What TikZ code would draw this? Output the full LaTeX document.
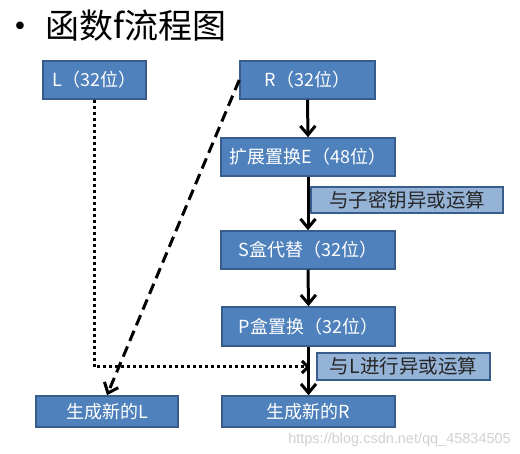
\documentclass[tikz,border=0pt]{standalone}
\usepackage{fontspec}
\setmainfont{Noto Sans CJK SC}
\newfontfamily\cjk{Noto Sans CJK SC}
\newfontfamily\wm{Liberation Sans}
\newfontfamily\bulfont{DejaVu Sans}
\usetikzlibrary{arrows.meta}
\definecolor{boxfill}{HTML}{4F81BD}
\definecolor{boxline}{HTML}{385D8A}
\definecolor{labfill}{HTML}{95B3D7}
\begin{document}
\begin{tikzpicture}[x=1pt,y=-1pt,
  blk/.style={draw=boxline,line width=1.5pt,fill=boxfill,text=white,inner sep=0pt,
    font=\cjk\fontsize{18}{20}\selectfont},
  lab/.style={draw=boxline,line width=1.5pt,fill=labfill,text=black!85,inner sep=0pt,
    font=\cjk\fontsize{19.5}{21}\selectfont},
  flow/.style={line width=3pt,-{Straight Barb[length=9pt,width=15pt,line width=3pt]}},
  dotline/.style={line width=3pt,dash pattern=on 3pt off 3pt,-{Straight Barb[length=6pt,width=12pt,line width=3pt]}},
  dashline/.style={line width=3pt,dash pattern=on 11pt off 6pt,-{Straight Barb[length=9pt,width=15pt,line width=3pt]}}]
\useasboundingbox[fill=white] (0,0) rectangle (520,454);
% title
\node[font=\bulfont\fontsize{26}{28}\selectfont,inner sep=0pt] (bul) at (20,29) {•};
\node[font=\cjk\fontsize{34}{36}\selectfont,anchor=west,inner sep=0pt] (title) at (45,26) {函数f流程图};
% boxes
\node[blk,minimum width=103pt,minimum height=38pt] (L) at (94.5,80) {L（32位）};
\node[blk,minimum width=135pt,minimum height=38pt] (R) at (307.5,80) {R（32位）};
\node[blk,minimum width=174pt,minimum height=38pt] (E) at (308,157) {扩展置换E（48位）};
\node[blk,minimum width=174pt,minimum height=38pt] (S) at (308,250) {S盒代替（32位）};
\node[blk,minimum width=173pt,minimum height=39pt] (P) at (308.5,326.5) {P盒置换（32位）};
\node[blk,minimum width=173pt,minimum height=31pt] (NR) at (308.5,411.5) {生成新的R};
\node[blk,minimum width=142pt,minimum height=31pt] (NL) at (107,411.5) {生成新的L};
% arrows
\draw[flow] (R.south) -- (E.north);
\draw[flow] (E.south) -- (S.north);
\draw[flow] (S.south) -- (P.north);
\draw[flow] (P.south -| NR.north) -- (NR.north);
% labels
\node[lab,minimum width=192pt,minimum height=26pt] (lab1) at (407,200) {与子密钥异或运算};
\node[lab,minimum width=173pt,minimum height=27pt] (lab2) at (403.5,366.5) {与L进行异或运算};
% dotted and dashed
\coordinate (m) at (310,367);
\draw[dotline] (L.south) |- (m);
\draw[dashline] (R.west) -- (NL.north);
% watermark
\node[font=\wm\fontsize{14.5}{16}\selectfont,text=black!18,anchor=east,inner sep=0pt] (wmk) at (511,440) {https://blog.csdn.net/qq\_45834505};
\end{tikzpicture}
\end{document}
